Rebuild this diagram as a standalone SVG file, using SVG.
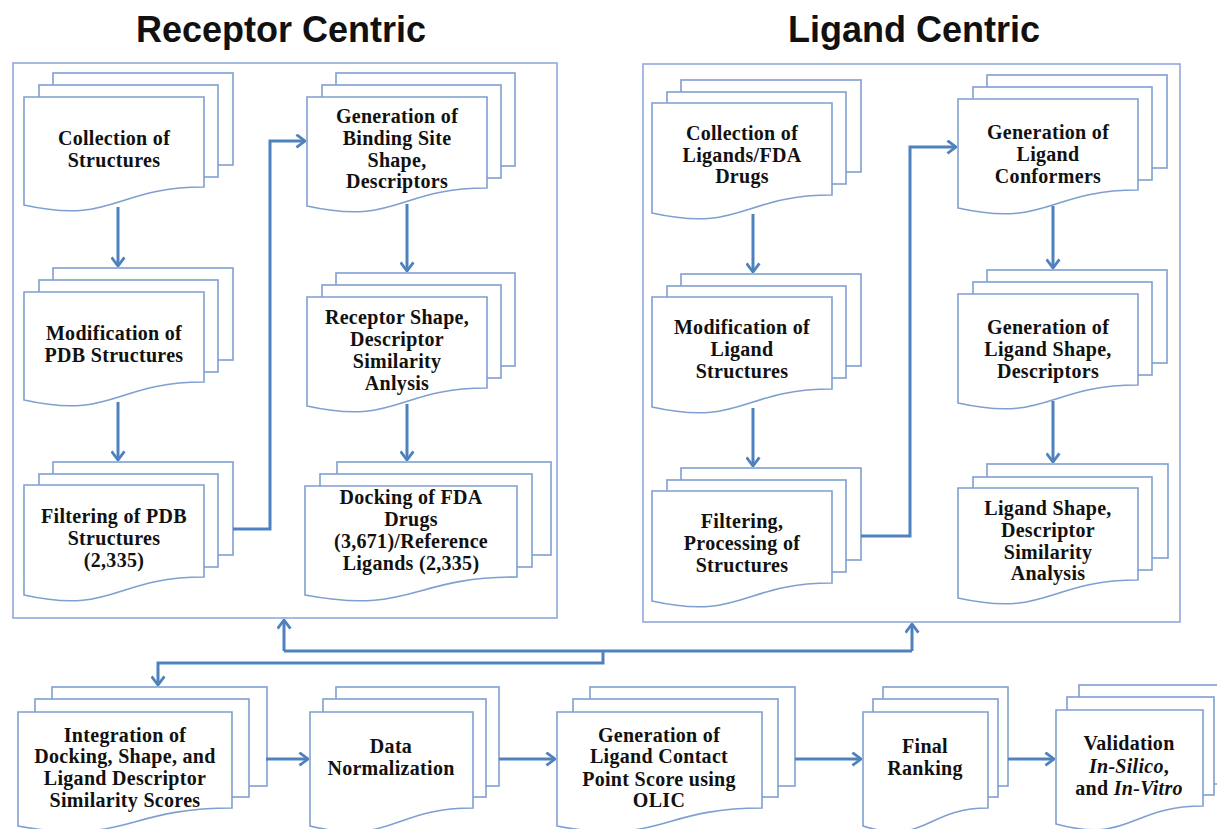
<svg xmlns="http://www.w3.org/2000/svg" width="1217" height="829" viewBox="0 0 1217 829">
<defs>
<marker id="arr" viewBox="0 0 10 14" refX="9" refY="7" markerWidth="11" markerHeight="15" markerUnits="userSpaceOnUse" orient="auto">
<path d="M1,1 L9,7 L1,13" fill="none" stroke="#4F81BD" stroke-width="2.6"/>
</marker>
</defs>
<style>
.sheet{fill:#fff;stroke:#7F9FD1;stroke-width:1.6}
.panel{fill:none;stroke:#8FAADC;stroke-width:1.6}
.lbl{font-family:"Liberation Serif","Times New Roman",serif;font-weight:bold;font-size:20px;fill:#111;text-anchor:middle;letter-spacing:0.3px}
.title{font-family:"Liberation Sans",Arial,sans-serif;font-weight:bold;font-size:36px;fill:#111;text-anchor:middle}
.conn{fill:none;stroke:#4F81BD;stroke-width:3}
.arr{marker-end:url(#arr)}
</style>
<rect width="1217" height="829" fill="#fff"/>
<text class="title" x="281" y="42">Receptor Centric</text>
<text class="title" x="914" y="42">Ligand Centric</text>
<rect id="receptor-panel" class="panel" x="13" y="63" width="544" height="555"/>
<rect id="ligand-panel" class="panel" x="643" y="64" width="537" height="558"/>

<g id="r1">
<rect class="sheet" x="53" y="73" width="180" height="92"/>
<rect class="sheet" x="39" y="85" width="179" height="92"/>
<path class="sheet" d="M24,97 H204 V187 C114,187 114,225 24,205 Z"/>
<text class="lbl"><tspan x="114" y="145">Collection of</tspan><tspan x="114" y="167">Structures</tspan></text>
</g>
<g id="r2">
<rect class="sheet" x="53" y="268" width="180" height="92"/>
<rect class="sheet" x="39" y="280" width="179" height="92"/>
<path class="sheet" d="M24,292 H204 V382 C114,382 114,420 24,400 Z"/>
<text class="lbl"><tspan x="114" y="340">Modification of</tspan><tspan x="114" y="362">PDB Structures</tspan></text>
</g>
<g id="r3">
<rect class="sheet" x="53" y="462" width="180" height="93"/>
<rect class="sheet" x="39" y="474" width="179" height="93"/>
<path class="sheet" d="M24,485 H204 V577 C114,577 114,615 24,595 Z"/>
<text class="lbl"><tspan x="114" y="523">Filtering of PDB</tspan><tspan x="114" y="545">Structures</tspan><tspan x="114" y="567">(2,335)</tspan></text>
</g>
<g id="r4">
<rect class="sheet" x="336" y="73" width="179" height="93"/>
<rect class="sheet" x="322" y="85" width="179" height="93"/>
<path class="sheet" d="M307,97 H487 V188 C397,188 397,226 307,206 Z"/>
<text class="lbl"><tspan x="397" y="123">Generation of</tspan><tspan x="397" y="145">Binding Site</tspan><tspan x="397" y="167">Shape,</tspan><tspan x="397" y="188">Descriptors</tspan></text>
</g>
<g id="r5">
<rect class="sheet" x="336" y="273" width="179" height="93"/>
<rect class="sheet" x="322" y="285" width="179" height="93"/>
<path class="sheet" d="M307,297 H487 V388 C397,388 397,426 307,406 Z"/>
<text class="lbl"><tspan x="397" y="324">Receptor Shape,</tspan><tspan x="397" y="346">Descriptor</tspan><tspan x="397" y="368">Similarity</tspan><tspan x="397" y="390">Anlysis</tspan></text>
</g>
<g id="r6">
<rect class="sheet" x="337" y="462" width="214" height="93"/>
<rect class="sheet" x="320" y="474" width="212" height="93"/>
<path class="sheet" d="M305,486 H517 V577 C411,577 411,615 305,595 Z"/>
<text class="lbl"><tspan x="411" y="504">Docking of FDA</tspan><tspan x="411" y="526">Drugs</tspan><tspan x="411" y="548">(3,671)/Reference</tspan><tspan x="411" y="570">Ligands (2,335)</tspan></text>
</g>

<g id="l1">
<rect class="sheet" x="681" y="80" width="180" height="92"/>
<rect class="sheet" x="667" y="92" width="179" height="92"/>
<path class="sheet" d="M652,103 H832 V195 C742,195 742,233 652,213 Z"/>
<text class="lbl"><tspan x="742" y="140">Collection of</tspan><tspan x="742" y="162">Ligands/FDA</tspan><tspan x="742" y="183">Drugs</tspan></text>
</g>
<g id="l2">
<rect class="sheet" x="681" y="274" width="180" height="92"/>
<rect class="sheet" x="667" y="286" width="179" height="92"/>
<path class="sheet" d="M652,297 H832 V389 C742,389 742,427 652,407 Z"/>
<text class="lbl"><tspan x="742" y="334">Modification of</tspan><tspan x="742" y="356">Ligand</tspan><tspan x="742" y="378">Structures</tspan></text>
</g>
<g id="l3">
<rect class="sheet" x="681" y="468" width="180" height="92"/>
<rect class="sheet" x="667" y="480" width="179" height="92"/>
<path class="sheet" d="M652,491 H832 V583 C742,583 742,621 652,601 Z"/>
<text class="lbl"><tspan x="742" y="528">Filtering,</tspan><tspan x="742" y="550">Processing of</tspan><tspan x="742" y="572">Structures</tspan></text>
</g>
<g id="l4">
<rect class="sheet" x="987" y="75" width="180" height="93"/>
<rect class="sheet" x="973" y="87" width="179" height="93"/>
<path class="sheet" d="M958,99 H1138 V190 C1048,190 1048,228 958,208 Z"/>
<text class="lbl"><tspan x="1048" y="139">Generation of</tspan><tspan x="1048" y="161">Ligand</tspan><tspan x="1048" y="183">Conformers</tspan></text>
</g>
<g id="l5">
<rect class="sheet" x="987" y="270" width="180" height="93"/>
<rect class="sheet" x="973" y="282" width="179" height="93"/>
<path class="sheet" d="M958,294 H1138 V385 C1048,385 1048,423 958,403 Z"/>
<text class="lbl"><tspan x="1048" y="334">Generation of</tspan><tspan x="1048" y="356">Ligand Shape,</tspan><tspan x="1048" y="378">Descriptors</tspan></text>
</g>
<g id="l6">
<rect class="sheet" x="987" y="464" width="181" height="94"/>
<rect class="sheet" x="973" y="477" width="179" height="93"/>
<path class="sheet" d="M958,488 H1138 V580 C1048,580 1048,618 958,598 Z"/>
<text class="lbl"><tspan x="1048" y="515">Ligand Shape,</tspan><tspan x="1048" y="537">Descriptor</tspan><tspan x="1048" y="559">Similarity</tspan><tspan x="1048" y="580">Analysis</tspan></text>
</g>

<g id="b1">
<rect class="sheet" x="52" y="687" width="215" height="99"/>
<rect class="sheet" x="35" y="699" width="214" height="98"/>
<path class="sheet" d="M18,712 H232 V808 C125,808 125,846 18,826 Z"/>
<text class="lbl"><tspan x="125" y="742">Integration of</tspan><tspan x="125" y="763">Docking, Shape, and</tspan><tspan x="125" y="785">Ligand Descriptor</tspan><tspan x="125" y="807">Similarity Scores</tspan></text>
</g>
<g id="b2">
<rect class="sheet" x="336" y="687" width="163" height="99"/>
<rect class="sheet" x="323" y="699" width="163" height="98"/>
<path class="sheet" d="M310,712 H473 V808 C391.5,808 391.5,846 310,826 Z"/>
<text class="lbl"><tspan x="391" y="753">Data</tspan><tspan x="391" y="775">Normalization</tspan></text>
</g>
<g id="b3">
<rect class="sheet" x="590" y="687" width="205" height="99"/>
<rect class="sheet" x="573" y="699" width="205" height="98"/>
<path class="sheet" d="M557,712 H762 V808 C659.5,808 659.5,846 557,826 Z"/>
<text class="lbl"><tspan x="659" y="742">Generation of</tspan><tspan x="659" y="763">Ligand Contact</tspan><tspan x="659" y="786">Point Score using</tspan><tspan x="659" y="807">OLIC</tspan></text>
</g>
<g id="b4">
<rect class="sheet" x="883" y="687" width="125" height="99"/>
<rect class="sheet" x="873" y="699" width="125" height="98"/>
<path class="sheet" d="M863,712 H988 V808 C925.5,808 925.5,846 863,826 Z"/>
<text class="lbl"><tspan x="925" y="753">Final</tspan><tspan x="925" y="775">Ranking</tspan></text>
</g>
<g id="b5">
<rect class="sheet" x="1079" y="685" width="150" height="99"/>
<rect class="sheet" x="1067" y="697" width="147" height="98"/>
<path class="sheet" d="M1056,710 H1203 V806 C1129.5,806 1129.5,844 1056,824 Z"/>
<text class="lbl"><tspan x="1129" y="750">Validation</tspan><tspan x="1129" y="773" font-style="italic">In-Silico</tspan><tspan>,</tspan><tspan x="1129" y="795">and <tspan font-style="italic">In-Vitro</tspan></tspan></text>
</g>

<g id="connectors">
<path class="conn arr" d="M118,207 V266"/>
<path class="conn arr" d="M118,402 V460"/>
<path class="conn arr" d="M407,204 V271"/>
<path class="conn arr" d="M407,404 V460"/>
<path class="conn arr" d="M233,529 H270 V141 H305"/>
<path class="conn arr" d="M753,214 V272"/>
<path class="conn arr" d="M753,408 V466"/>
<path class="conn arr" d="M1053,206 V268"/>
<path class="conn arr" d="M1053,401 V462"/>
<path class="conn arr" d="M861,536 H910 V147 H956"/>
<path class="conn arr" d="M266,759 H308"/>
<path class="conn arr" d="M499,759 H555"/>
<path class="conn arr" d="M795,759 H861"/>
<path class="conn arr" d="M1008,759 H1054"/>
<path class="conn" d="M284,651 H912"/>
<path class="conn arr" d="M284,651 V620"/>
<path class="conn arr" d="M912,651 V624"/>
<path class="conn arr" d="M603,651 V663 H158 V685"/>
</g>
</svg>
